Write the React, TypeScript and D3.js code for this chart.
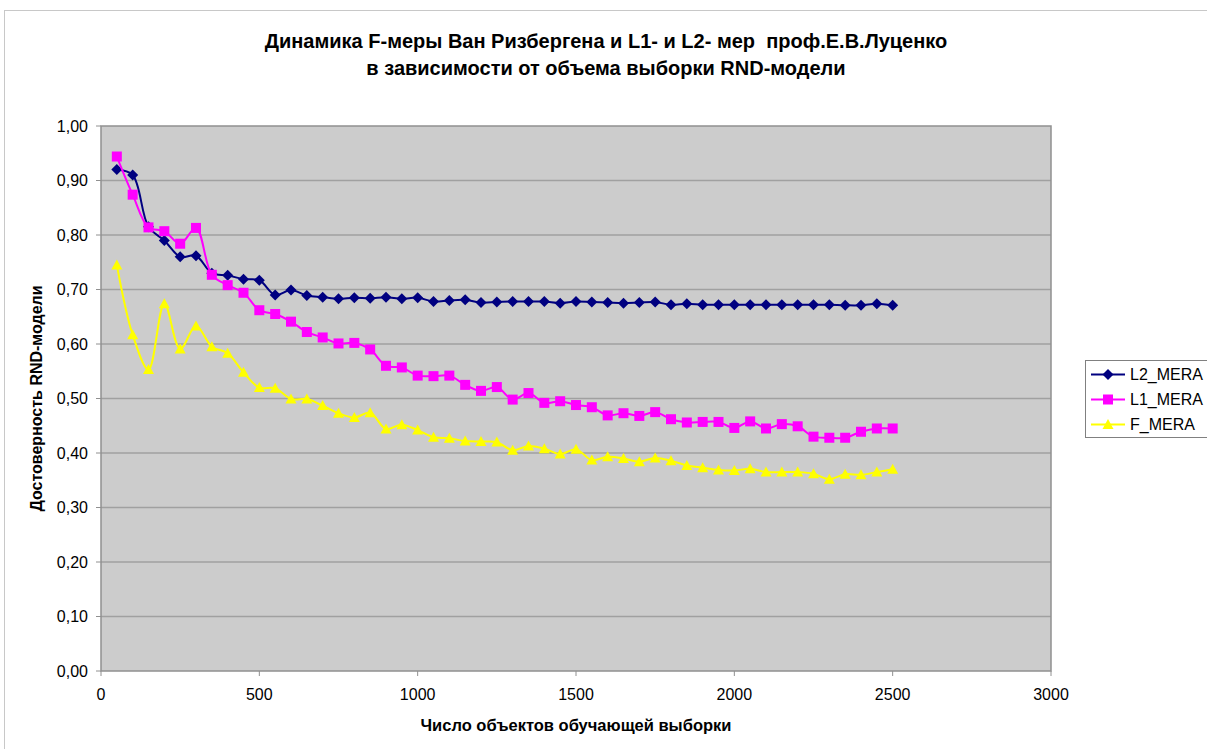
import React from 'react';
import * as d3 from 'd3';

// sample sizes (x values)
const sampleSizes = [
  50, 100, 150, 200, 250, 300, 350, 400, 450, 500,
  550, 600, 650, 700, 750, 800, 850, 900, 950, 1000,
  1050, 1100, 1150, 1200, 1250, 1300, 1350, 1400, 1450, 1500,
  1550, 1600, 1650, 1700, 1750, 1800, 1850, 1900, 1950, 2000,
  2050, 2100, 2150, 2200, 2250, 2300, 2350, 2400, 2450, 2500,
];

const l2Mera = [
  0.92, 0.91, 0.815, 0.79, 0.76, 0.762, 0.73, 0.726, 0.719, 0.717,
  0.69, 0.699, 0.689, 0.686, 0.683, 0.685, 0.684, 0.686, 0.683, 0.685,
  0.678, 0.68, 0.681, 0.676, 0.677, 0.678, 0.678, 0.678, 0.675, 0.678,
  0.677, 0.676, 0.675, 0.676, 0.677, 0.672, 0.674, 0.672, 0.672, 0.672,
  0.672, 0.672, 0.672, 0.672, 0.672, 0.672, 0.671, 0.671, 0.674, 0.671,
];

const l1Mera = [
  0.944, 0.874, 0.814, 0.807, 0.784, 0.813, 0.727, 0.708, 0.694, 0.662,
  0.655, 0.641, 0.622, 0.612, 0.601, 0.602, 0.59, 0.56, 0.557, 0.542,
  0.541, 0.542, 0.525, 0.514, 0.521, 0.498, 0.51, 0.492, 0.495, 0.488,
  0.484, 0.469, 0.473, 0.468, 0.475, 0.462, 0.456, 0.457, 0.457, 0.446,
  0.458, 0.445, 0.453, 0.449, 0.43, 0.428, 0.428, 0.439, 0.445, 0.445,
];

const fMera = [
  0.745, 0.617, 0.553, 0.674, 0.591, 0.633, 0.595, 0.583, 0.548, 0.52,
  0.519, 0.499, 0.499, 0.487, 0.473, 0.465, 0.474, 0.444, 0.452, 0.442,
  0.429, 0.427, 0.422, 0.421, 0.42, 0.405, 0.413, 0.408, 0.398, 0.407,
  0.387, 0.393, 0.39, 0.384, 0.391, 0.386, 0.377, 0.373, 0.369, 0.368,
  0.371, 0.365, 0.365, 0.365, 0.362, 0.352, 0.361, 0.36, 0.365, 0.37,
];

const xTicks = [0, 500, 1000, 1500, 2000, 2500, 3000];
const yTicks = [0, 0.1, 0.2, 0.3, 0.4, 0.5, 0.6, 0.7, 0.8, 0.9, 1.0];

const titleLines = [
  'Динамика F-меры Ван Ризбергена и L1- и L2- мер  проф.Е.В.Луценко',
  'в зависимости от объема выборки RND-модели',
];
const xTitle = 'Число объектов обучающей выборки';
const yTitle = 'Достоверность RND-модели';

type Marker = 'diamond' | 'square' | 'triangle';
interface Series {
  name: string;
  values: number[];
  color: string;
  marker: Marker;
}

const series: Series[] = [
  { name: 'L2_MERA', values: l2Mera, color: '#000080', marker: 'diamond' },
  { name: 'L1_MERA', values: l1Mera, color: '#ff00ff', marker: 'square' },
  { name: 'F_MERA', values: fMera, color: '#ffff00', marker: 'triangle' },
];

const font = "Arial, 'Liberation Sans', sans-serif";

// draws a marker centred on (0,0)
const MarkerShape = ({ type, color }: { type: Marker; color: string }) => {
  if (type === 'diamond') {
    return <path d="M0,-5.5L5.5,0L0,5.5L-5.5,0Z" fill={color} />;
  }
  if (type === 'square') {
    return <rect x={-5} y={-5} width={10} height={10} fill={color} />;
  }
  return <path d="M0,-5.5L5.5,4.5L-5.5,4.5Z" fill={color} />;
};

const App = () => {
  const width = 1207;
  const height = 749;
  const plot = { left: 101, top: 126, right: 1051, bottom: 671 };

  const x = d3.scaleLinear().domain([0, 3000]).range([plot.left, plot.right]);
  const y = d3.scaleLinear().domain([0, 1]).range([plot.bottom, plot.top]);

  const line = d3
    .line<number>()
    .x((_, i) => x(sampleSizes[i]))
    .y((d) => y(d))
    .curve(d3.curveCatmullRom.alpha(0.5));

  const fmtY = (v: number) => v.toFixed(2).replace('.', ',');

  const legend = { x: 1085, y: 360, w: 140, h: 77, rowH: 25 };

  return (
    <svg
      width={width}
      height={height}
      style={{ position: 'absolute', left: 0, top: 0, background: '#fff' }}
      fontFamily={font}
    >
      {/* chart area border */}
      <rect x={4.5} y={10.5} width={1220} height={760} fill="#fff" stroke="#c8c8c8" />

      {/* title */}
      {titleLines.map((t, i) => (
        <text
          key={i}
          x={606}
          y={43 + i * 27}
          textAnchor="middle"
          dominantBaseline="middle"
          fontSize={20}
          fontWeight="bold"
          style={{ whiteSpace: 'pre' }}
        >
          {t}
        </text>
      ))}

      {/* plot area */}
      <rect
        x={plot.left}
        y={plot.top}
        width={plot.right - plot.left}
        height={plot.bottom - plot.top}
        fill="#cccccc"
      />
      {yTicks.slice(1, -1).map((t) => (
        <line key={t} x1={plot.left} x2={plot.right} y1={y(t)} y2={y(t)} stroke="#a0a0a0" strokeWidth={1.5} />
      ))}
      <rect
        x={plot.left}
        y={plot.top}
        width={plot.right - plot.left}
        height={plot.bottom - plot.top}
        fill="none"
        stroke="#909090"
        strokeWidth={1.5}
      />

      {/* y axis */}
      {yTicks.map((t) => (
        <g key={t}>
          <line x1={plot.left - 5} x2={plot.left} y1={y(t)} y2={y(t)} stroke="#909090" />
          <text x={88} y={y(t)} dy="0.35em" textAnchor="end" fontSize={16}>
            {fmtY(t)}
          </text>
        </g>
      ))}
      <text
        transform={`translate(38,${(plot.top + plot.bottom) / 2}) rotate(-90)`}
        textAnchor="middle"
        dominantBaseline="middle"
        fontSize={16}
        fontWeight="bold"
      >
        {yTitle}
      </text>

      {/* x axis */}
      {xTicks.map((t) => (
        <g key={t}>
          <line x1={x(t)} x2={x(t)} y1={plot.bottom} y2={plot.bottom + 5} stroke="#909090" />
          <text x={x(t)} y={694} dy="0.35em" textAnchor="middle" fontSize={16}>
            {t}
          </text>
        </g>
      ))}
      <text
        x={(plot.left + plot.right) / 2}
        y={727}
        textAnchor="middle"
        dominantBaseline="middle"
        fontSize={16.5}
        fontWeight="bold"
      >
        {xTitle}
      </text>

      {/* series */}
      {series.map((s) => (
        <g key={s.name}>
          <path d={line(s.values) || ''} fill="none" stroke={s.color} strokeWidth={2} />
          {s.values.map((v, i) => (
            <g key={i} transform={`translate(${x(sampleSizes[i])},${y(v)})`}>
              <MarkerShape type={s.marker} color={s.color} />
            </g>
          ))}
        </g>
      ))}

      {/* legend */}
      <rect x={legend.x + 0.5} y={legend.y + 0.5} width={legend.w} height={legend.h} fill="#fff" stroke="#808080" />
      {series.map((s, i) => {
        const cy = legend.y + 14.5 + i * legend.rowH;
        return (
          <g key={s.name}>
            <line x1={1091} x2={1125} y1={cy} y2={cy} stroke={s.color} strokeWidth={2} />
            <g transform={`translate(1108,${cy})`}>
              <MarkerShape type={s.marker} color={s.color} />
            </g>
            <text x={1130} y={cy} dy="0.35em" fontSize={16}>
              {s.name}
            </text>
          </g>
        );
      })}
    </svg>
  );
};

export default App;
